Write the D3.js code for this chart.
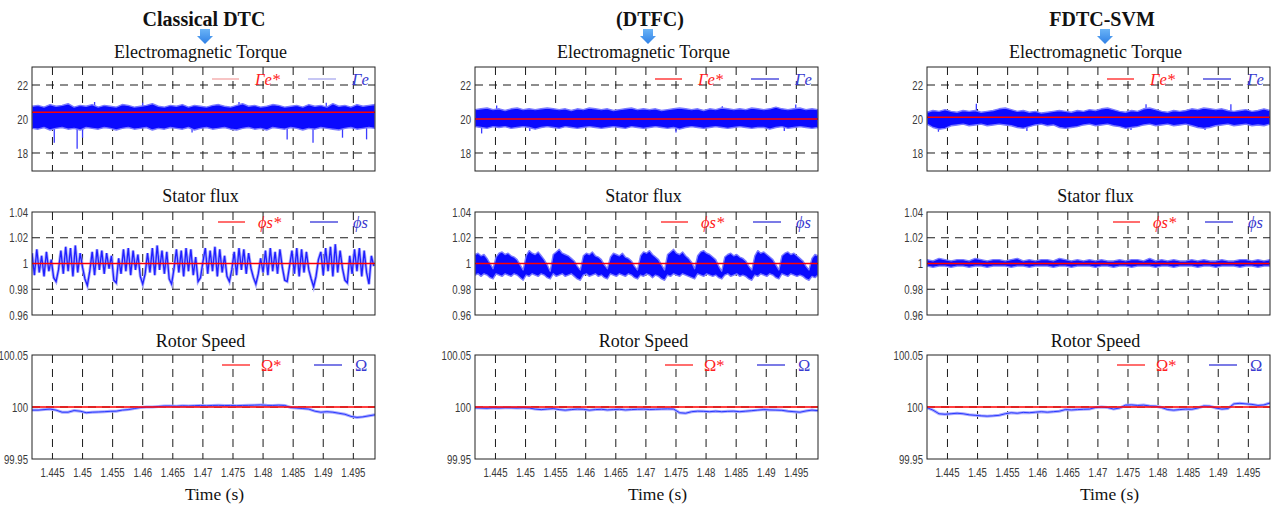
<!DOCTYPE html>
<html lang="en">
  <head>
    <meta charset="UTF-8" />
    <meta name="viewport" content="width=device-width, initial-scale=1.0" />
    <title>DTC / DTFC / FDTC-SVM</title>
    <script src="https://cdn.jsdelivr.net/npm/d3@7"></script>
    <style>
      body { margin: 0; background: #fff; }
      .tick { font-family: 'Liberation Sans', 'DejaVu Sans', sans-serif; font-size: 13px; fill: #3a3a3a; }
      .serif { font-family: 'Liberation Serif', 'DejaVu Serif', serif; fill: #111; }
    </style>
  </head>

  <body>
    <div id="chart"></div>
    <script>
      const methods = ['Classical DTC', '(DTFC)', 'FDTC-SVM']
      const xTicks = [1.445, 1.45, 1.455, 1.46, 1.465, 1.47, 1.475, 1.48, 1.485, 1.49, 1.495]
      const timeDomain = [1.4416, 1.4986]
      const tStart = 1.4416

      const torqueTicks = [18, 20, 22]
      const fluxTicks = [0.96, 0.98, 1, 1.02, 1.04]
      const speedTicks = [99.95, 100, 100.05]

      const torqueRef = [20.4, 20.0, 20.1]
      const fluxRef = [1, 1, 1]
      const speedRef = [100, 100, 100]

      // torque envelopes, one sample per ms
      const torqueUpperDTC = [
        20.75, 20.8, 20.7, 20.85, 20.75, 20.8, 20.9, 20.7, 20.8, 20.75,
        20.85, 20.7, 20.8, 20.75, 20.7, 20.85, 20.8, 20.7, 20.75, 20.8,
        20.9, 20.75, 20.7, 20.8, 20.75, 20.85, 20.7, 20.8, 20.75, 20.7,
        20.8, 20.85, 20.75, 20.7, 20.8, 20.9, 20.75, 20.8, 20.7, 20.75,
        20.85, 20.8, 20.7, 20.75, 20.8, 20.7, 20.85, 20.75, 20.8, 20.7,
        20.9, 20.75, 20.8, 20.7, 20.85, 20.75, 20.8, 20.85
      ]
      const torqueLowerDTC = [
        19.45, 19.4, 19.5, 19.35, 19.45, 19.5, 19.4, 19.45, 19.35, 19.5,
        19.45, 19.4, 19.5, 19.45, 19.35, 19.45, 19.5, 19.4, 19.45, 19.5,
        19.35, 19.45, 19.4, 19.5, 19.45, 19.4, 19.5, 19.35, 19.45, 19.5,
        19.4, 19.45, 19.5, 19.4, 19.35, 19.45, 19.5, 19.4, 19.45, 19.35,
        19.5, 19.45, 19.4, 19.5, 19.45, 19.35, 19.45, 19.4, 19.5, 19.45,
        19.4, 19.35, 19.45, 19.5, 19.4, 19.45, 19.5, 19.45
      ]
      const torqueSpikeTDTC = [1.4453, 1.4491, 1.45, 1.4682, 1.484, 1.4883, 1.4932, 1.4972, 1.452, 1.46, 1.476, 1.4905]
      const torqueSpikeVDTC = [18.6, 18.25, 18.9, 19.2, 18.8, 18.6, 18.9, 18.8, 21.0, 20.95, 21.0, 20.95]

      const torqueUpperDTFC = [
        20.55, 20.6, 20.65, 20.55, 20.6, 20.5, 20.6, 20.65, 20.55, 20.6,
        20.55, 20.6, 20.65, 20.6, 20.55, 20.6, 20.5, 20.6, 20.55, 20.65,
        20.6, 20.55, 20.6, 20.5, 20.55, 20.6, 20.65, 20.55, 20.6, 20.55,
        20.6, 20.5, 20.55, 20.6, 20.65, 20.6, 20.55, 20.6, 20.5, 20.6,
        20.55, 20.65, 20.6, 20.55, 20.6, 20.55, 20.65, 20.6, 20.55, 20.6,
        20.7, 20.6, 20.55, 20.6, 20.65, 20.55, 20.6, 20.55
      ]
      const torqueLowerDTFC = [
        19.55, 19.5, 19.45, 19.55, 19.5, 19.55, 19.45, 19.5, 19.55, 19.5,
        19.4, 19.5, 19.55, 19.5, 19.45, 19.55, 19.5, 19.45, 19.5, 19.55,
        19.5, 19.45, 19.5, 19.55, 19.5, 19.45, 19.55, 19.5, 19.45, 19.5,
        19.55, 19.5, 19.45, 19.5, 19.4, 19.5, 19.55, 19.5, 19.45, 19.5,
        19.55, 19.5, 19.45, 19.5, 19.55, 19.5, 19.45, 19.5, 19.5, 19.4,
        19.5, 19.55, 19.45, 19.5, 19.55, 19.5, 19.45, 19.5
      ]
      const torqueSpikeTDTFC = [1.4427, 1.4507, 1.475, 1.493, 1.4452, 1.4827, 1.4949]
      const torqueSpikeVDTFC = [19.15, 19.3, 19.2, 19.3, 20.8, 20.75, 20.85]

      const torqueUpperSVM = [
        20.4, 20.5, 20.45, 20.55, 20.45, 20.4, 20.5, 20.45, 20.5, 20.4, 20.45, 20.5,
        20.6, 20.65, 20.55, 20.45, 20.5, 20.4, 20.45, 20.35, 20.4, 20.45, 20.5, 20.45,
        20.4, 20.5, 20.45, 20.55, 20.5, 20.6, 20.65, 20.55, 20.45, 20.4, 20.5, 20.45,
        20.6, 20.65, 20.55, 20.45, 20.4, 20.5, 20.45, 20.5, 20.6, 20.55, 20.65, 20.6,
        20.55, 20.6, 20.5, 20.45, 20.5, 20.55, 20.45, 20.5, 20.6, 20.5
      ]
      const torqueLowerSVM = [
        19.7, 19.5, 19.4, 19.45, 19.6, 19.65, 19.7, 19.6, 19.65, 19.7, 19.6, 19.65,
        19.7, 19.65, 19.6, 19.5, 19.45, 19.55, 19.65, 19.7, 19.6, 19.65, 19.5, 19.45,
        19.5, 19.55, 19.65, 19.7, 19.6, 19.65, 19.7, 19.6, 19.55, 19.45, 19.5, 19.55,
        19.65, 19.7, 19.6, 19.65, 19.7, 19.6, 19.65, 19.7, 19.6, 19.5, 19.45, 19.5,
        19.6, 19.65, 19.7, 19.6, 19.65, 19.7, 19.6, 19.65, 19.6, 19.7
      ]
      const torqueSpikeTSVM = [1.4498, 1.478, 1.4921, 1.4435, 1.4582, 1.4755, 1.4878]
      const torqueSpikeVSVM = [20.9, 20.87, 20.87, 19.25, 19.3, 19.35, 19.35]

      // classical DTC flux trace, one sample every 0.4 ms
      const fluxLineDTC = [
        1.008, 0.991, 1.011, 0.993, 1.006, 0.99, 1.009, 0.994, 1.003, 0.989, 0.986, 0.995,
        1.01, 0.992, 1.013, 0.994, 1.012, 0.99, 1.014, 0.993, 1.008, 0.997, 0.988, 0.983,
        0.994, 1.009, 0.991, 1.011, 0.995, 1.01, 0.992, 1.008, 0.996, 1.006, 0.987, 0.985,
        1.004, 0.992, 1.011, 0.994, 1.012, 0.991, 1.01, 0.995, 1.007, 0.99, 0.984, 0.992,
        1.008, 0.993, 1.012, 0.991, 1.014, 0.995, 1.01, 0.992, 1.009, 0.988, 0.984, 0.996,
        1.011, 0.993, 1.01, 0.99, 1.012, 0.994, 1.011, 0.991, 1.005, 0.986, 0.989, 1.001,
        1.012, 0.992, 1.01, 0.994, 1.013, 0.99, 1.011, 0.993, 1.006, 0.99, 0.986, 0.995,
        1.009, 0.991, 1.012, 0.995, 1.011, 0.992, 1.008, 0.996, 0.989, 0.984, 0.992, 1.004,
        0.993, 1.01, 0.991, 1.012, 0.994, 1.009, 0.992, 1.011, 0.997, 0.987, 0.986, 0.998,
        1.01, 0.992, 1.012, 0.99, 1.011, 0.993, 1.009, 0.995, 0.988, 0.982, 0.99, 1.003,
        1.009, 0.991, 1.012, 0.994, 1.013, 0.99, 1.015, 0.993, 1.01, 0.996, 0.987, 0.985,
        1.006, 0.992, 1.011, 0.994, 1.012, 0.99, 1.01, 0.993, 0.984, 1.006, 0.998
      ]

      // DTFC flux envelope, one sample every 0.5 ms
      const fluxUpperDTFC = [
        1.007, 1.008, 1.006, 1.007, 1.004, 1.0, 0.996,
        1.005, 1.008, 1.009, 1.007, 1.008, 1.006, 1.005, 1.003, 0.999, 0.995,
        1.006, 1.01, 1.008, 1.007, 1.009, 1.006, 1.003, 0.999, 0.994,
        1.007, 1.009, 1.011, 1.008, 1.007, 1.006, 1.004, 1.002, 0.998, 0.995,
        1.006, 1.008, 1.007, 1.009, 1.006, 1.005, 1.003, 0.999, 0.996,
        1.005, 1.008, 1.007, 1.006, 1.008, 1.005, 1.004, 1.002, 0.998, 0.995,
        1.006, 1.009, 1.008, 1.01, 1.007, 1.005, 1.003, 0.999, 0.995,
        1.007, 1.009, 1.011, 1.008, 1.007, 1.009, 1.006, 1.004, 1.001, 0.996,
        1.006, 1.009, 1.01, 1.008, 1.007, 1.005, 1.003, 0.998, 0.994,
        1.005, 1.007, 1.008, 1.006, 1.007, 1.005, 1.004, 1.002, 0.998, 0.995,
        1.006, 1.01, 1.008, 1.009, 1.007, 1.005, 1.003, 0.999, 0.995,
        1.006, 1.008, 1.009, 1.007, 1.008, 1.006, 1.004, 1.002, 0.998, 0.995,
        1.004, 1.007, 1.006
      ]
      const fluxLowerDTFC = [
        0.991, 0.992, 0.99, 0.992, 0.991, 0.989, 0.988,
        0.992, 0.991, 0.99, 0.992, 0.991, 0.99, 0.992, 0.991, 0.989, 0.987,
        0.991, 0.99, 0.992, 0.991, 0.99, 0.992, 0.991, 0.989, 0.988,
        0.992, 0.99, 0.991, 0.992, 0.99, 0.991, 0.992, 0.99, 0.988, 0.987,
        0.991, 0.992, 0.99, 0.991, 0.992, 0.99, 0.991, 0.989, 0.988,
        0.992, 0.991, 0.99, 0.992, 0.991, 0.99, 0.992, 0.991, 0.989, 0.988,
        0.991, 0.99, 0.992, 0.991, 0.989, 0.991, 0.99, 0.988, 0.987,
        0.991, 0.99, 0.992, 0.991, 0.99, 0.992, 0.991, 0.99, 0.989, 0.988,
        0.992, 0.991, 0.99, 0.992, 0.991, 0.99, 0.991, 0.989, 0.988,
        0.991, 0.992, 0.99, 0.991, 0.992, 0.99, 0.991, 0.99, 0.988, 0.987,
        0.991, 0.99, 0.992, 0.991, 0.99, 0.992, 0.991, 0.989, 0.988,
        0.992, 0.991, 0.99, 0.992, 0.991, 0.99, 0.991, 0.99, 0.988, 0.987,
        0.99, 0.989, 0.991
      ]

      // FDTC-SVM flux envelope, one sample per ms
      const fluxUpperSVM = [
        1.003, 1.002, 1.004, 1.003, 1.002, 1.003, 1.003, 1.002, 1.004, 1.003,
        1.002, 1.003, 1.003, 1.002, 1.003, 1.004, 1.002, 1.003, 1.002, 1.003,
        1.003, 1.002, 1.004, 1.003, 1.002, 1.003, 1.002, 1.003, 1.002, 1.003,
        1.002, 1.002, 1.003, 1.002, 1.003, 1.003, 1.002, 1.004, 1.002, 1.003,
        1.002, 1.003, 1.002, 1.002, 1.003, 1.002, 1.003, 1.002, 1.002, 1.003,
        1.002, 1.002, 1.003, 1.003, 1.002, 1.003, 1.002, 1.003
      ]
      const fluxLowerSVM = [
        0.998, 0.997, 0.998, 0.998, 0.997, 0.998, 0.998, 0.997, 0.998, 0.998,
        0.997, 0.998, 0.998, 0.998, 0.997, 0.998, 0.998, 0.997, 0.998, 0.998,
        0.998, 0.997, 0.998, 0.998, 0.997, 0.998, 0.998, 0.998, 0.997, 0.998,
        0.998, 0.997, 0.998, 0.998, 0.997, 0.998, 0.998, 0.998, 0.997, 0.998,
        0.998, 0.997, 0.998, 0.998, 0.998, 0.997, 0.998, 0.998, 0.997, 0.998,
        0.998, 0.998, 0.997, 0.998, 0.998, 0.997, 0.998, 0.998
      ]

      // rotor speed, one sample per ms
      const speedDTC = [
        99.997, 99.997, 99.9975, 99.998, 99.997, 99.995, 99.995, 99.9966, 99.996, 99.9945,
        99.995, 99.9952, 99.9955, 99.9958, 99.996, 99.997, 99.9975, 99.9985, 99.9995, 100.0,
        100.0, 100.0005, 100.001, 100.001, 100.0008, 100.0012, 100.001, 100.0013, 100.0015, 100.0012,
        100.0015, 100.0016, 100.0014, 100.0015, 100.0013, 100.0015, 100.0016, 100.0018, 100.002, 100.0016,
        100.0015, 100.0018, 100.0015, 99.9995, 99.999, 99.9985, 99.998, 99.996, 99.995, 99.9955,
        99.995, 99.994, 99.993, 99.991, 99.99, 99.9905, 99.9915, 99.9925
      ]
      const speedDTFC = [
        99.9992, 99.999, 99.9988, 99.9992, 99.999, 99.9993, 99.9992, 99.999, 99.9993, 99.999,
        99.998, 99.9975, 99.998, 99.9985, 99.9975, 99.997, 99.9975, 99.998, 99.9978, 99.997,
        99.9975, 99.9978, 99.9972, 99.9975, 99.9978, 99.9972, 99.9975, 99.9978, 99.998, 99.9976,
        99.9978, 99.998, 99.9982, 99.998, 99.9945, 99.994, 99.9955, 99.996, 99.9958, 99.9955,
        99.996, 99.9955, 99.9958, 99.996, 99.9955, 99.996, 99.9965, 99.997, 99.9975, 99.9972,
        99.997, 99.9968, 99.996, 99.9955, 99.995, 99.9962, 99.997, 99.9965
      ]
      const speedSVM = [
        99.9994, 99.997, 99.9935, 99.993, 99.9935, 99.994, 99.9935, 99.9925, 99.992, 99.9915,
        99.9912, 99.9915, 99.992, 99.9935, 99.9945, 99.994, 99.9948, 99.9945, 99.995, 99.9955,
        99.995, 99.9955, 99.996, 99.9975, 99.9972, 99.9975, 99.9978, 99.998, 99.9995, 100.0,
        99.9995, 99.998, 99.999, 100.0018, 100.002, 100.0015, 100.0018, 100.001, 100.0008, 99.9995,
        99.9975, 99.997, 99.9975, 99.998, 99.9978, 99.999, 100.001, 100.0008, 99.999, 99.998,
        99.9985, 100.003, 100.0035, 100.003, 100.0025, 100.0015, 100.002, 100.0038
      ]

      const W = 1272
      const H = 511
      const colLeft = [32, 475, 927]
      const plotW = 343
      const titleX = [204, 650, 1102]
      const arrowX = [205, 648, 1105]

      const rows = [
        { name: 'Electromagnetic Torque', top: 67, h: 104, domain: [16.94, 23.06], ticks: torqueTicks, refs: torqueRef,
          titleY: 58, legend: ['\u0393e*', '\u0393e'], italic: true, legDy: 12, legX: [180, 207, 223, 276, 304, 320] },
        { name: 'Stator flux', top: 212, h: 103, domain: [0.96, 1.04], ticks: fluxTicks, refs: fluxRef,
          titleY: 202, legend: ['\u03d5s*', '\u03d5s'], italic: true, legDy: 10, legX: [186, 213, 226, 278, 306, 321] },
        { name: 'Rotor Speed', top: 355, h: 104, domain: [99.95, 100.05], ticks: speedTicks, refs: speedRef,
          titleY: 347, legend: ['\u03a9*', '\u03a9'], italic: false, legDy: 10, legX: [190, 218, 229, 282, 310, 323] }
      ]

      // what goes in each cell [row][col]
      const signals = [
        [
          { kind: 'band', dt: 0.001, hi: torqueUpperDTC, lo: torqueLowerDTC, spT: torqueSpikeTDTC, spV: torqueSpikeVDTC },
          { kind: 'band', dt: 0.001, hi: torqueUpperDTFC, lo: torqueLowerDTFC, spT: torqueSpikeTDTFC, spV: torqueSpikeVDTFC },
          { kind: 'band', dt: 0.001, hi: torqueUpperSVM, lo: torqueLowerSVM, spT: torqueSpikeTSVM, spV: torqueSpikeVSVM }
        ],
        [
          { kind: 'trace', dt: 0.0004, v: fluxLineDTC },
          { kind: 'band', dt: 0.0005, hi: fluxUpperDTFC, lo: fluxLowerDTFC },
          { kind: 'band', dt: 0.001, hi: fluxUpperSVM, lo: fluxLowerSVM }
        ],
        [
          { kind: 'line', dt: 0.001, v: speedDTC },
          { kind: 'line', dt: 0.001, v: speedDTFC },
          { kind: 'line', dt: 0.001, v: speedSVM }
        ]
      ]

      const svg = d3.select('#chart').append('svg').attr('width', W).attr('height', H)
      svg.append('rect').attr('width', W).attr('height', H).attr('fill', '#fff')

      const defs = svg.append('defs')
      const grad = defs.append('linearGradient').attr('id', 'arrowGrad').attr('x1', 0).attr('x2', 0).attr('y1', 0).attr('y2', 1)
      grad.append('stop').attr('offset', '0%').attr('stop-color', '#6ab4f7')
      grad.append('stop').attr('offset', '100%').attr('stop-color', '#2f80e6')

      const fmt = v => String(+v.toFixed(3))
      // the figure uses a narrow face for numbers
      const squeeze = 0.74

      methods.forEach((method, c) => {
        const left = colLeft[c]
        const x = d3.scaleLinear().domain(timeDomain).range([left, left + plotW])
        const mid = left + plotW / 2

        svg.append('text')
          .attr('class', 'serif')
          .attr('x', titleX[c]).attr('y', 26)
          .attr('text-anchor', 'middle')
          .style('font-size', '20px').style('font-weight', 'bold')
          .text(method)

        const ax = arrowX[c]
        svg.append('path')
          .attr('d', `M${ax - 5},29 H${ax + 5} V36 H${ax + 8} L${ax},44 L${ax - 8},36 H${ax - 5} Z`)
          .attr('fill', 'url(#arrowGrad)')

        rows.forEach((row, r) => {
          const y = d3.scaleLinear().domain(row.domain).range([row.top + row.h, row.top])
          const g = svg.append('g')
          const clipId = `clip-${r}-${c}`
          defs.append('clipPath').attr('id', clipId)
            .append('rect').attr('x', left).attr('y', row.top).attr('width', plotW).attr('height', row.h)

          g.append('text')
            .attr('class', 'serif')
            .attr('x', mid - 3).attr('y', row.titleY)
            .attr('text-anchor', 'middle')
            .style('font-size', '18px')
            .text(row.name)

          // dashed grid
          g.selectAll('line.vgrid').data(xTicks).join('line')
            .attr('x1', d => x(d)).attr('x2', d => x(d))
            .attr('y1', row.top).attr('y2', row.top + row.h)
            .attr('stroke', '#1a1a1a').attr('stroke-width', 1).attr('stroke-dasharray', '8,6')
          g.selectAll('line.hgrid').data(row.ticks.filter(t => t > row.domain[0] && t < row.domain[1])).join('line')
            .attr('x1', left).attr('x2', left + plotW)
            .attr('y1', d => y(d)).attr('y2', d => y(d))
            .attr('stroke', '#1a1a1a').attr('stroke-width', 1).attr('stroke-dasharray', '8,6')

          // signal
          const sig = signals[r][c]
          const data = g.append('g').attr('clip-path', `url(#${clipId})`)
          if (sig.kind === 'band') {
            const n = Math.min(sig.hi.length, sig.lo.length)
            const pts = d3.range(n).map(i => ({ t: tStart + i * sig.dt, hi: sig.hi[i], lo: sig.lo[i] }))
            if (sig.spT) {
              data.selectAll('line.spike').data(d3.zip(sig.spT, sig.spV)).join('line')
                .attr('x1', d => x(d[0])).attr('x2', d => x(d[0]))
                .attr('y1', y(row.refs[c])).attr('y2', d => y(d[1]))
                .attr('stroke', '#3b3bff').attr('stroke-width', 1.3)
            }
            data.append('path').datum(pts)
              .attr('d', d3.area().x(d => x(d.t)).y0(d => y(d.lo)).y1(d => y(d.hi)))
              .attr('fill', '#0a0aff')
              .attr('stroke', '#7a7aff').attr('stroke-width', 1.4).attr('stroke-linejoin', 'round')
          } else {
            const pts = sig.v.map((v, i) => ({ t: tStart + i * sig.dt, v }))
            const line = d3.line().x(d => x(d.t)).y(d => y(d.v))
            data.append('path').datum(pts).attr('d', line)
              .attr('fill', 'none').attr('stroke', '#a9a9ff').attr('stroke-width', 3)
            data.append('path').datum(pts).attr('d', line)
              .attr('fill', 'none').attr('stroke', sig.kind === 'trace' ? '#1f1fff' : '#2a3cff').attr('stroke-width', sig.kind === 'trace' ? 1.3 : 1)
          }

          // reference
          data.append('line')
            .attr('x1', x(timeDomain[0])).attr('x2', x(timeDomain[1]))
            .attr('y1', y(row.refs[c])).attr('y2', y(row.refs[c]))
            .attr('stroke', '#ff0000').attr('stroke-width', 1.6)

          // frame
          g.append('rect')
            .attr('x', left).attr('y', row.top).attr('width', plotW).attr('height', row.h)
            .attr('fill', 'none').attr('stroke', '#222').attr('stroke-width', 1)

          // y labels
          g.selectAll('text.ylab').data(row.ticks).join('text')
            .attr('class', 'tick')
            .attr('transform', d => `translate(${left - 4},${y(d)}) scale(${squeeze},1)`)
            .attr('dy', '0.35em').attr('text-anchor', 'end')
            .text(fmt)

          // x labels on the bottom row only
          if (r === rows.length - 1) {
            g.selectAll('text.xlab').data(xTicks).join('text')
              .attr('class', 'tick')
              .attr('transform', d => `translate(${x(d)},${row.top + row.h + 18}) scale(${squeeze},1)`)
              .attr('text-anchor', 'middle')
              .text(fmt)
            g.append('text')
              .attr('class', 'serif')
              .attr('x', mid + 11).attr('y', 500)
              .attr('text-anchor', 'middle')
              .style('font-size', '17.5px')
              .text('Time (s)')
          }

          // legend
          const faint = r === 0 && c === 0
          const lx = row.legX
          const lg = g.append('g').attr('transform', `translate(${left},${row.top + row.legDy})`)
          lg.append('line').attr('x1', lx[0]).attr('x2', lx[1])
            .attr('stroke', faint ? '#f3a5a5' : '#ff2020').attr('stroke-width', 1.3)
          lg.append('line').attr('x1', lx[3]).attr('x2', lx[4])
            .attr('stroke', faint ? '#a8a8ee' : '#3434d8').attr('stroke-width', 1.3)
          lg.append('text').attr('x', lx[2]).attr('y', 6)
            .attr('class', 'serif').style('fill', '#ff2020')
            .style('font-size', '16.5px').style('font-style', row.italic ? 'italic' : 'normal')
            .text(row.legend[0])
          lg.append('text').attr('x', lx[5]).attr('y', 6)
            .attr('class', 'serif').style('fill', '#3a3ad0')
            .style('font-size', '16.5px').style('font-style', row.italic ? 'italic' : 'normal')
            .text(row.legend[1])
        })
      })
    </script>
  </body>
</html>
